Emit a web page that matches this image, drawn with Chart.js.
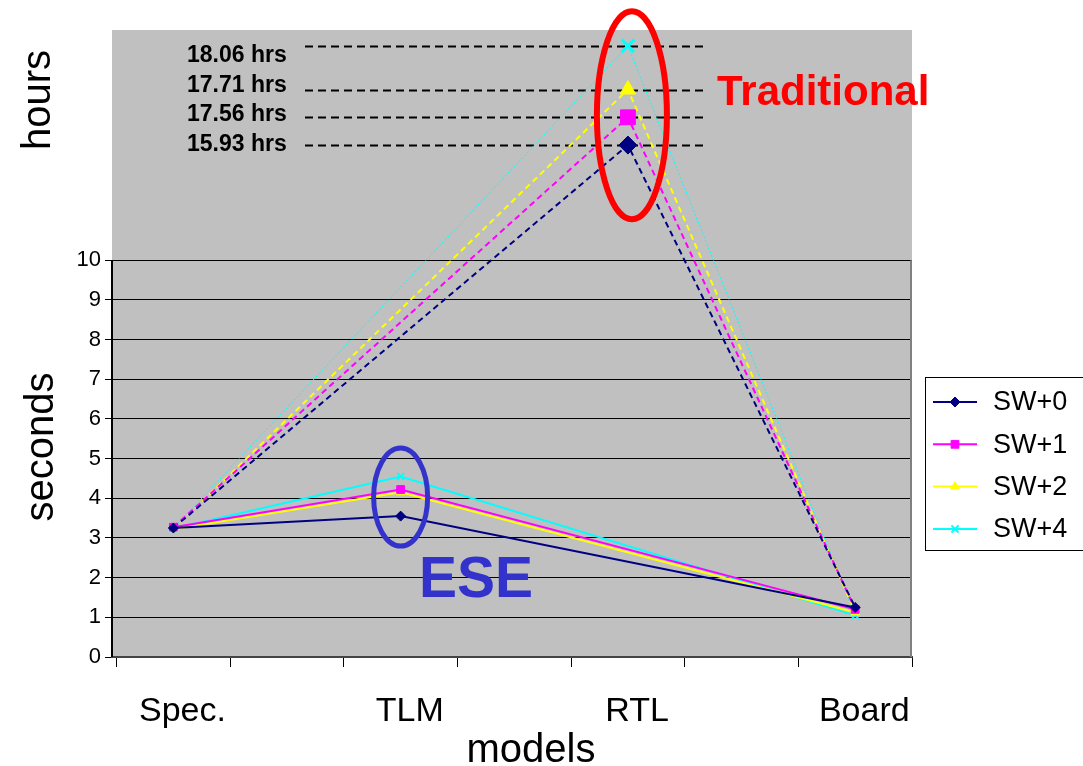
<!DOCTYPE html>
<html>
<head>
<meta charset="utf-8">
<title>ESE vs Traditional</title>
<script src="https://cdn.jsdelivr.net/npm/chart.js@4.4.1/dist/chart.umd.min.js"></script>
<style>
  html, body { margin:0; padding:0; background:#fff; }
  #wrap { width:1083px; height:766px; }
</style>
</head>
<body>
<div id="wrap"><canvas id="chart" width="1083" height="766"></canvas></div>
<script>
// ---- data ------------------------------------------------------------
const models       = ['Spec.', 'TLM', 'RTL', 'Board'];
const seriesNames  = ['SW+0', 'SW+1', 'SW+2', 'SW+4'];
const specSeconds  = [3.25, 3.27, 3.22, 3.24];
const tlmSeconds   = [3.55, 4.22, 4.15, 4.55];
const boardSeconds = [1.25, 1.2, 1.12, 1.05];
// RTL runs take hours, so they sit in the band above the 0..10 seconds scale
const rtlHours     = ['15.93', '17.56', '17.71', '18.06'];
const rtlBand      = [12.9, 13.6, 14.3, 15.4];
const yTicks       = [0, 1, 2, 3, 4, 5, 6, 7, 8, 9, 10];

const colors  = ['#000080', '#FF00FF', '#FFFF00', '#00FFFF'];
const markers = ['rectRot', 'rect', 'triangle', 'crossRot'];
const FONT = 'Liberation Sans, Arial, sans-serif';

Chart.defaults.font.family = FONT;
Chart.defaults.color = '#000';

// ---- datasets: solid ESE path + dashed traditional path per series ----
const solid = seriesNames.map((name, i) => ({
  label: name,
  data: [
    { x: 0, y: specSeconds[i] },
    { x: 1, y: tlmSeconds[i] },
    { x: 3, y: boardSeconds[i] },
  ],
  borderColor: colors[i],
  backgroundColor: colors[i],
  borderWidth: 2,
  pointStyle: markers[i],
  pointRadius: markers[i] === 'rect' ? 5.5 : 5,
  pointBorderWidth: markers[i] === 'crossRot' ? 2 : 1,
  pointBorderColor: colors[i],
  pointBackgroundColor: colors[i],
}));

const dashed = seriesNames.map((name, i) => ({
  label: name + ' (RTL)',
  data: [
    { x: 0, y: specSeconds[i] },
    { x: 2, y: rtlBand[i] },
    { x: 3, y: boardSeconds[i] },
  ],
  borderColor: colors[i],
  backgroundColor: colors[i],
  borderWidth: i === 3 ? 1 : 2,
  borderDash: i === 3 ? [2, 2] : [6, 4],
  pointStyle: markers[i],
  pointRadius: [0, markers[i] === 'rect' ? 10.5 : 9, 0],
  pointBorderWidth: markers[i] === 'crossRot' ? 3 : 1,
  pointBorderColor: colors[i],
  pointBackgroundColor: colors[i],
}));

// ---- plugins ----------------------------------------------------------
const backdrop = {
  id: 'backdrop',
  beforeDraw(chart) {
    const { ctx, chartArea: a } = chart;
    ctx.save();
    ctx.fillStyle = '#C0C0C0';
    ctx.fillRect(a.left, a.top, a.right - a.left, a.bottom - a.top);
    ctx.restore();
  }
};

const hourLines = {
  id: 'hourLines',
  beforeDatasetsDraw(chart) {
    const { ctx, scales: { y } } = chart;
    ctx.save();
    ctx.strokeStyle = '#000';
    ctx.lineWidth = 2;
    ctx.setLineDash([8, 5]);
    rtlBand.forEach(v => {
      const py = Math.round(y.getPixelForValue(v)) + 0.5;
      ctx.beginPath(); ctx.moveTo(305, py); ctx.lineTo(705, py); ctx.stroke();
    });
    ctx.setLineDash([]);
    ctx.font = 'bold 23px ' + FONT;
    ctx.textAlign = 'left';
    ctx.textBaseline = 'alphabetic';
    // labels listed top-down (largest first)
    [...rtlHours].reverse().forEach((h, k) => ctx.fillText(h + ' hrs', 187, 62 + k * 29.5));
    ctx.restore();
  }
};

function rotatedText(ctx, txt, x, y) {
  ctx.save();
  ctx.translate(x, y);
  ctx.rotate(-Math.PI / 2);
  ctx.fillText(txt, 0, 0);
  ctx.restore();
}

const notes = {
  id: 'notes',
  afterDraw(chart) {
    const { ctx, chartArea: a, scales: { x, y } } = chart;
    ctx.save();

    // seconds axis line only spans 0..10
    ctx.strokeStyle = '#000';
    ctx.lineWidth = 2;
    ctx.beginPath();
    ctx.moveTo(a.left, y.getPixelForValue(0));
    ctx.lineTo(a.left, y.getPixelForValue(10));
    ctx.stroke();
    ctx.strokeStyle = '#808080';
    ctx.beginPath();
    ctx.moveTo(a.right - 1, y.getPixelForValue(10));
    ctx.lineTo(a.right - 1, a.bottom);
    ctx.stroke();

    // axis titles
    ctx.fillStyle = '#000';
    ctx.font = '40px ' + FONT;
    ctx.textAlign = 'center';
    ctx.textBaseline = 'alphabetic';
    rotatedText(ctx, 'hours', 50, 100);
    rotatedText(ctx, 'seconds', 53, 447);
    ctx.fillText('models', 531, 762);

    // callouts
    ctx.lineWidth = 6;
    ctx.strokeStyle = '#FF0000';
    ctx.beginPath();
    ctx.ellipse(x.getPixelForValue(2) + 4, y.getPixelForValue(13.65), 35, 104, 0, 0, Math.PI * 2);
    ctx.stroke();
    ctx.lineWidth = 5;
    ctx.strokeStyle = '#3333CC';
    ctx.beginPath();
    ctx.ellipse(x.getPixelForValue(1), y.getPixelForValue(4.03), 27, 49, 0, 0, Math.PI * 2);
    ctx.stroke();

    ctx.font = 'bold 42px ' + FONT;
    ctx.fillStyle = '#FF0000';
    ctx.textAlign = 'left';
    ctx.fillText('Traditional', 717, 105);
    ctx.font = 'bold 57px ' + FONT;
    ctx.fillStyle = '#3333CC';
    ctx.textAlign = 'center';
    ctx.fillText('ESE', 476, 597);

    // legend box
    ctx.fillStyle = '#fff';
    ctx.fillRect(925, 377, 160, 173);
    ctx.strokeStyle = '#000';
    ctx.lineWidth = 1;
    ctx.strokeRect(925.5, 377.5, 160, 173);
    ctx.font = '27px ' + FONT;
    ctx.textAlign = 'left';
    ctx.textBaseline = 'middle';
    solid.forEach((ds, i) => {
      const ry = 402 + i * 42.3;
      ctx.strokeStyle = ds.borderColor;
      ctx.fillStyle = ds.borderColor;
      ctx.lineWidth = 2;
      ctx.beginPath(); ctx.moveTo(933, ry); ctx.lineTo(977, ry); ctx.stroke();
      ctx.lineWidth = ds.pointBorderWidth;
      Chart.helpers.drawPoint(ctx, { pointStyle: ds.pointStyle, radius: ds.pointRadius, rotation: 0, borderWidth: ds.pointBorderWidth }, 955, ry);
      ctx.fillStyle = '#000';
      ctx.fillText(ds.label, 993, ry + 1);
    });
    ctx.restore();
  }
};

// ---- chart ------------------------------------------------------------
new Chart(document.getElementById('chart'), {
  type: 'line',
  data: { datasets: [...solid, ...dashed] },
  options: {
    responsive: false,
    animation: false,
    layout: { padding: { top: 30, right: 171, left: 0, bottom: 0 } },
    plugins: { legend: { display: false }, tooltip: { enabled: false } },
    scales: {
      x: {
        type: 'linear', position: 'bottom', min: -0.27, max: 3.25,
        afterBuildTicks: s => { s.ticks = [-0.25, 0.25, 0.75, 1.25, 1.75, 2.25, 2.75, 3.25].map(v => ({ value: v })); },
        afterFit: s => { s.height = 12; },
        ticks: { display: false },
        grid: { drawOnChartArea: false, drawTicks: true, tickLength: 10, color: '#000', lineWidth: 1 },
        border: { display: true, color: '#444', width: 2 },
      },
      xl: {
        type: 'linear', position: 'bottom', min: -0.31, max: 3.21,
        afterBuildTicks: s => { s.ticks = models.map((m, i) => ({ value: i })); },
        afterFit: s => { s.height = 97; },
        ticks: { callback: (v, i) => models[i], font: { size: 34 }, padding: 22, maxRotation: 0, autoSkip: false },
        grid: { display: false, drawTicks: false },
        border: { display: false },
      },
      y: {
        type: 'linear', min: 0, max: 15.8,
        afterBuildTicks: s => { s.ticks = yTicks.map(v => ({ value: v })); },
        afterFit: s => { s.width = 112; },
        ticks: { font: { size: 22 }, padding: 4, callback: v => String(v) },
        grid: { color: '#000', lineWidth: 1, tickLength: 7 },
        border: { display: false },
      }
    }
  },
  plugins: [backdrop, hourLines, notes]
});
</script>
</body>
</html>
